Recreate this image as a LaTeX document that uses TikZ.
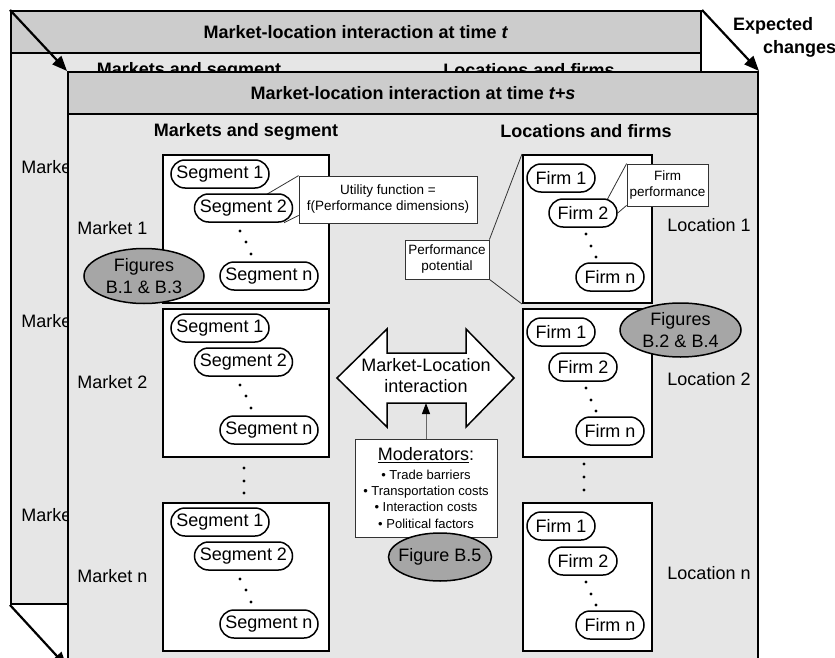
\documentclass[tikz,border=0pt]{standalone}
\usepackage{fontspec}
\setmainfont{Liberation Sans}
\usetikzlibrary{shapes.geometric, arrows.meta, calc}
\definecolor{framegray}{HTML}{E6E6E6}
\definecolor{bargray}{HTML}{CCCCCC}
\definecolor{figgray}{HTML}{A6A6A6}
\pgfdeclarelayer{base}
\pgfdeclarelayer{wedges}
\pgfsetlayers{base,wedges,main}

\begin{document}
\begin{tikzpicture}[x=1pt, y=-1pt, font=\fontsize{18}{21}\selectfont,
  frame/.style={draw, line width=2pt, fill=framegray, anchor=north west, minimum width=690pt, minimum height=593pt, inner sep=0pt},
  titlebar/.style={draw, line width=2pt, fill=bargray, anchor=north west, minimum width=690pt, minimum height=42pt, inner sep=0pt, font=\fontsize{18}{21}\selectfont\bfseries},
  colhead/.style={font=\fontsize{18}{21}\selectfont\bfseries},
  mbox/.style={draw, line width=2pt, fill=white, minimum height=148pt, inner sep=0pt},
  pill/.style={draw, line width=1.5pt, fill=white, rounded corners=14pt, minimum height=28pt, inner sep=0pt},
  seg/.style={pill, minimum width=98pt},
  firm/.style={pill, minimum width=68pt},
  fig/.style={ellipse, draw, line width=1.5pt, fill=figgray, inner sep=-6pt, align=center, font=\fontsize{18}{22}\selectfont},
  note/.style={draw=black!80, line width=0.8pt, fill=white, inner sep=0pt, align=center, font=\fontsize{13.5}{16}\selectfont},
  wedge/.style={black!80, line width=0.8pt},
  change/.style={line width=2.2pt, -{Triangle[length=15pt,width=12pt]}}
]
\useasboundingbox (0,0) rectangle (835,658);

\begin{pgfonlayer}{base}
% time t
\node[frame] (back) at (10,10) {};
\node[titlebar] (backbar) at (10,10) {Market-location interaction at time \textit{t}};
\node[colhead] (backmh) at (189,71) {Markets and segment};
\node[colhead] (backlh) at (529,70) {Locations and firms};
\node (backm1) at (56.5,167) {Market 1};
\node (backm2) at (56.5,321) {Market 2};
\node (backmn) at (56.5,515) {Market n};
% time t+s
\node[frame, minimum height=594pt] (front) at (67,71) {};
\node[titlebar] (frontbar) at (67,71) {Market-location interaction at time \textit{t+s}};
\end{pgfonlayer}
\node[colhead] (frontmh) at (246,132) {Markets and segment};
\node[colhead] (frontlh) at (586,131) {Locations and firms};

\foreach \r/\y in {1/229, 2/383, n/577}{
  \begin{pgfonlayer}{base}
  \node[mbox, minimum width=166pt] (mb\r) at (246,\y) {};
  \node[mbox, minimum width=129pt] (fb\r) at (587.5,\y) {};
  \end{pgfonlayer}
  \node[seg] (s\r1) at ($(mb\r.north west)+(58,20)$) {Segment 1};
  \node[seg] (s\r2) at ($(mb\r.north west)+(81.5,54)$) {Segment 2};
  \node[seg] (s\r3) at ($(mb\r.north west)+(107,122)$) {Segment n};
  \node[firm] (f\r1) at ($(fb\r.north west)+(39,24)$) {Firm 1};
  \node[firm] (f\r2) at ($(fb\r.north west)+(61,59)$) {Firm 2};
  \node[firm] (f\r3) at ($(fb\r.north west)+(88,123)$) {Firm n};
  \foreach \dx/\dy in {78/77, 84/88, 89/100}
    \fill ($(mb\r.north west)+(\dx,\dy)$) circle (1.6pt);
  \foreach \dx/\dy in {64/80, 69/92, 74/103}
    \fill ($(fb\r.north west)+(\dx,\dy)$) circle (1.6pt);
  \node (ml\r) at ($(mb\r.west)+(-49.5,-1)$) {Market \r};
  \node (ll\r) at ($(fb\r.east)+(56,-3.5)$) {Location \r};
}
\foreach \dy in {10, 23, 35}
  \fill ($(mb2.south)+(-2,\dy)$) circle (1.6pt);
\foreach \dy in {6, 19, 32}
  \fill ($(fb2.south)+(-3.5,\dy)$) circle (1.6pt);

% callouts
\node[note, minimum width=178pt, minimum height=47pt] (ufun) at (388,199.5) {Utility function =\\f(Performance dimensions)};
\node[note, minimum width=81pt, minimum height=42pt] (fperf) at (667.5,185) {Firm\\performance};
\node[note, minimum width=84pt, minimum height=39pt] (ppot) at (447,259.5) {Performance\\potential};
\begin{pgfonlayer}{wedges}
\draw[wedge] (ufun.north west) -- (s12.center);
\draw[wedge] ($(ufun.south west)+(0,-8)$) -- (s12.-20);
\draw[wedge] (fperf.north west) -- ($(f12.center)+(17,0)$);
\draw[wedge] ($(fperf.south west)+(0,-1)$) -- (f12.east);
\draw[wedge] (ppot.north east) -- (fb1.north west);
\draw[wedge] (ppot.south east) -- (fb1.south west);
\end{pgfonlayer}

% interaction
\draw[line width=1.5pt, fill=white] (337,378) -- (387,329) -- (387,353) -- (466,353) -- (466,329)
  -- (514,378) -- (466,427) -- (466,403) -- (387,403) -- (387,427) -- cycle;
\node[align=center] (mli) at (426,376) {Market-Location\\interaction};
\coordinate (mlbot) at (426,403);
\node[note, minimum width=142pt, minimum height=98pt, font=\fontsize{13}{16.3}\selectfont] (mod) at (426,488)
  {{\fontsize{18}{21}\selectfont\underline{Moderators}:}\\[2pt]\textbullet{} Trade barriers\\\textbullet{} Transportation costs\\\textbullet{} Interaction costs\\\textbullet{} Political factors};
\draw[-{Triangle[length=11pt,width=8pt,black]}, black!60, line width=1pt] (mod.north) -- (mlbot);

\node[fig, minimum width=120pt, minimum height=55pt] (figa) at (144,276) {Figures\\B.1 \& B.3};
\node[fig, minimum width=121pt, minimum height=54pt] (figb) at (680.5,330) {Figures\\B.2 \& B.4};
\node[fig, minimum width=103pt, minimum height=48pt] (figc) at (440,557) {Figure B.5};

% expected changes
\draw[change] (back.north west) -- (front.north west);
\draw[change] (back.north east) -- (front.north east);
\draw[change] (back.south west) -- (front.south west);
\node[align=left, anchor=west, inner sep=0pt, font=\fontsize{18}{23}\selectfont\bfseries] (expch) at (733,37.5) {Expected\\\hspace*{30pt}changes};
\end{tikzpicture}
\end{document}
